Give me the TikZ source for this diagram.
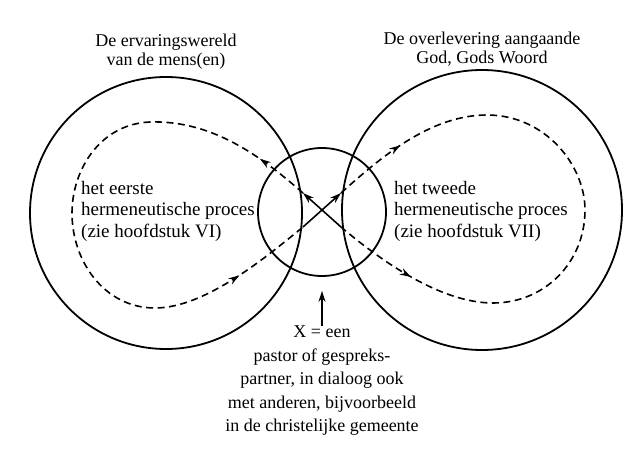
\documentclass[tikz,border=0pt]{standalone}
\usepackage{fontspec}
\setmainfont{Liberation Serif}
\usetikzlibrary{arrows.meta,positioning,decorations.markings}

\begin{document}
\begin{tikzpicture}[
  x=1pt, y=-1pt,
  ahead/.tip={Stealth[length=11pt,width=7pt]},
  ring/.style={draw, circle, line width=1.8pt, inner sep=0pt},
  txt/.style={font=\fontsize{18}{19}\selectfont, align=center, inner sep=0pt},
  proc/.style={txt, font=\fontsize{19}{21.5}\selectfont, align=left, anchor=west},
  loopline/.style={line width=1.6pt, dash pattern=on 7pt off 4.5pt},
  cross/.style={line width=1.6pt, -ahead}
]
\useasboundingbox (0,0) rectangle (624,454);

% the three circles
\node[ring, minimum size=272pt] (mens) at (166,213) {};
\node[ring, minimum size=280pt] (god) at (482,210) {};
\node[ring, minimum size=128pt] (x) at (322,212) {};

\node[txt, above=7pt of mens] (mens-t) {De ervaringswereld\\van de mens(en)};
\node[txt, above=3pt of god] (god-t) {De overlevering aangaande\\God, Gods Woord};

\node[proc] (een) at (81,211) {het eerste\\hermeneutische proces\\(zie hoofdstuk VI)};
\node[proc] (twee) at (394,211) {het tweede\\hermeneutische proces\\(zie hoofdstuk VII)};

\node[txt, below=49pt of x, font=\fontsize{18}{23.5}\selectfont] (pastor)
  {X = een\\pastor of gespreks-\\partner, in dialoog ook\\met anderen, bijvoorbeeld\\in de christelijke gemeente};

\draw[line width=1.8pt, -ahead, shorten >=14pt] (pastor) -- (x);

% the crossing in the middle
\coordinate (a1) at (303,193);
\coordinate (a2) at (341,227);
\coordinate (b1) at (303,227);
\coordinate (b2) at (341,193);
\draw[cross] (a2) -- (a1);
\draw[cross] (b1) -- (b2);

% the two hermeneutic loops
\draw[loopline, postaction={decorate}, decoration={markings,
    mark=at position 55pt with {\arrow{ahead}},
    mark=at position -80pt with {\arrow{ahead}}}]
  (a1) .. controls (265,160) and (215,120) .. (150,122)
  .. controls (100,124) and (72,170) .. (72,213)
  .. controls (72,262) and (105,308) .. (155,308)
  .. controls (205,308) and (265,258) .. (b1);
\draw[loopline, postaction={decorate}, decoration={markings,
    mark=at position 76pt with {\arrow{ahead}},
    mark=at position -86pt with {\arrowreversed{ahead}}}]
  (b2) .. controls (380,158) and (430,115) .. (487,115)
  .. controls (545,115) and (585,165) .. (585,210)
  .. controls (585,262) and (545,303) .. (493,303)
  .. controls (440,303) and (380,260) .. (a2);
\end{tikzpicture}
\end{document}
